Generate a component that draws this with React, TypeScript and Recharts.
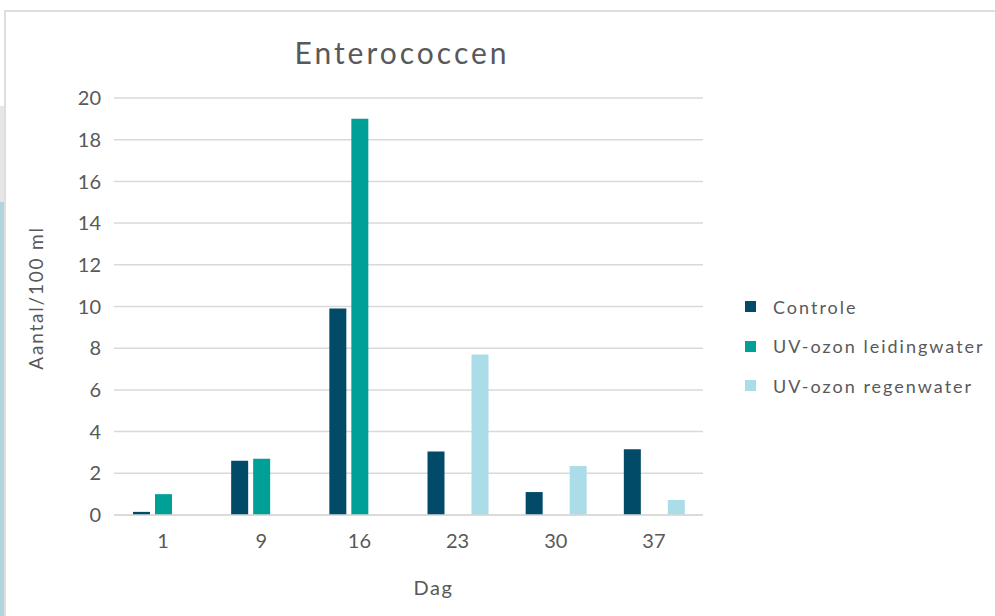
import React from 'react';
import { BarChart, Bar, XAxis, YAxis, CartesianGrid, Legend, Label } from 'recharts';

const days = ['1', '9', '16', '23', '30', '37'];
const controle = [0.15, 2.6, 9.9, 3.05, 1.1, 3.15];
const uvLeiding: (number | null)[] = [1.0, 2.7, 19.0, null, null, null];
const uvRegen: (number | null)[] = [null, null, null, 7.7, 2.35, 0.72];
const yTicks = [0, 2, 4, 6, 8, 10, 12, 14, 16, 18, 20];

const seriesNames = ['Controle', 'UV-ozon leidingwater', 'UV-ozon regenwater'];
const colors = ['#024b68', '#00a096', '#abdde8'];

const data = days.map((d, i) => ({
  dag: d,
  controle: controle[i],
  leiding: uvLeiding[i],
  regen: uvRegen[i],
}));

const TEXT = '#595959';
const FONT = 'Lato, "Noto Sans", sans-serif';

const LegendContent = () => (
  <div style={{ fontFamily: FONT }}>
    {seriesNames.map((n, i) => (
      <div key={n} style={{ display: 'flex', alignItems: 'center', height: 39.5 }}>
        <div style={{ width: 11, height: 11, background: colors[i], marginRight: 17 }} />
        <span style={{ fontSize: 18, color: TEXT, letterSpacing: 2 }}>{n}</span>
      </div>
    ))}
  </div>
);

export default function App() {
  return (
    <div style={{ position: 'fixed', left: 0, top: 0, width: 995, height: 616, background: '#fff', overflow: 'hidden' }}>
      <div style={{ position: 'absolute', left: 0, top: 106, width: 4, height: 96, background: '#e6e6e6' }} />
      <div style={{ position: 'absolute', left: 0, top: 202, width: 4, height: 414, background: '#b3d3dd' }} />
      <div style={{ position: 'absolute', left: 4, top: 10, width: 2, height: 606, background: '#dedede' }} />
      <div style={{ position: 'absolute', left: 4, top: 10, width: 991, height: 2, background: '#dedede' }} />
      <div style={{ position: 'absolute', left: 0, top: 0 }}>
        <BarChart
          width={995}
          height={616}
          data={data}
          margin={{ top: 98, right: 292, bottom: 0, left: 0 }}
          barSize={17}
          barGap={5}
        >
          <text x={402} y={52} textAnchor="middle" dominantBaseline="central" fontFamily={FONT} fontSize={30} fill={TEXT} letterSpacing={3}>
            Enterococcen
          </text>
          <CartesianGrid vertical={false} stroke="#d9d9d9" strokeWidth={1.5} />
          <XAxis
            dataKey="dag"
            axisLine={{ stroke: '#d9d9d9', strokeWidth: 1.5 }}
            tickLine={false}
            tickSize={0}
            tickMargin={19}
            tick={{ fill: TEXT, fontSize: 20, fontFamily: FONT }}
            height={101}
          >
            <Label
              value="Dag"
              position="insideTop"
              offset={66}
              viewBox={{ x: 164, y: 515, width: 539, height: 101 }}
              fill={TEXT}
              fontSize={20}
              fontFamily={FONT}
              letterSpacing={1.5}
            />
          </XAxis>
          <YAxis
            domain={[0, 20]}
            ticks={yTicks}
            interval={0}
            axisLine={false}
            tickLine={false}
            tickSize={0}
            tickMargin={13}
            width={114}
            tick={{ fill: TEXT, fontSize: 20, fontFamily: FONT }}
          >
            <Label
              value="Aantal/100 ml"
              angle={-90}
              position="insideLeft"
              offset={36}
              viewBox={{ x: 0, y: 80, width: 114, height: 436 }}
              fill={TEXT}
              fontSize={19}
              fontFamily={FONT}
              letterSpacing={1.8}
              style={{ textAnchor: 'middle' }}
            />
          </YAxis>
          <Legend
            layout="horizontal"
            verticalAlign="middle"
            align="center"
            content={<LegendContent />}
            wrapperStyle={{ left: 745, top: 287, width: 250, height: 120 }}
          />
          <Bar dataKey="controle" name={seriesNames[0]} fill={colors[0]} isAnimationActive={false} />
          <Bar dataKey="leiding" name={seriesNames[1]} fill={colors[1]} isAnimationActive={false} />
          <Bar dataKey="regen" name={seriesNames[2]} fill={colors[2]} isAnimationActive={false} />
        </BarChart>
      </div>
    </div>
  );
}
